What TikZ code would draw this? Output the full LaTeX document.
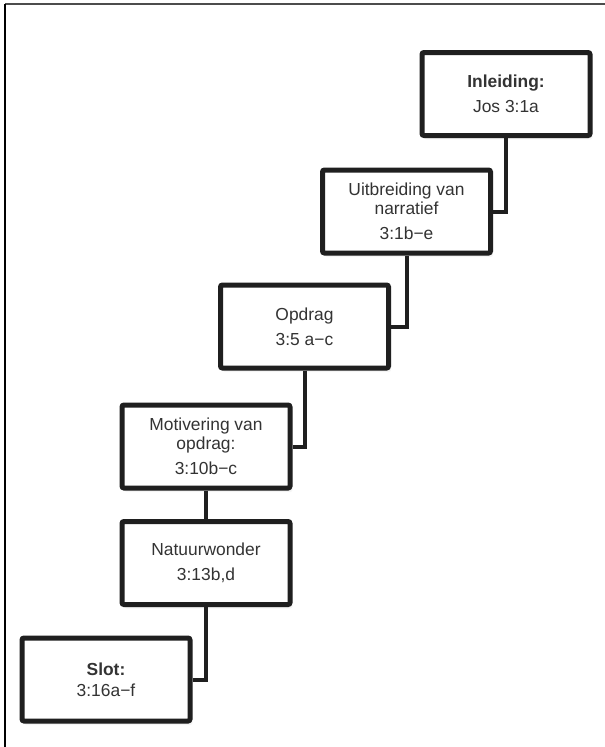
\documentclass[tikz,border=0pt]{standalone}
\usepackage{fontspec}
\setmainfont{Liberation Sans}
\usetikzlibrary{shadows}
\begin{document}
\begin{tikzpicture}[x=1pt,y=-1pt,
  box/.style={draw=black!88, fill=white, line width=5pt, rounded corners=2pt,
    minimum width=168pt, minimum height=83pt, inner sep=0pt, align=center,
    font=\fontsize{17.4}{19}\selectfont, text=black!80,
    drop shadow={shadow xshift=2.5pt, shadow yshift=-4pt, opacity=0.08},
    drop shadow={shadow xshift=1.5pt, shadow yshift=-2.5pt, opacity=0.18}},
  link/.style={line width=4pt, draw=black!88}]
\useasboundingbox (0,0) rectangle (605,747);
\draw[black!70, line width=1.5pt] (5,4) -- (605,4);
\draw[black, line width=1.5pt] (5,4) -- (5,747);
\node[box] (b1) at (506,94) {\textbf{Inleiding:}\\[6pt]Jos 3:1a};
\node[box] (b2) at (406.5,211.5) {Uitbreiding van\\narratief\\[6pt]3:1b−e};
\node[box] (b3) at (304.5,326.5) {Opdrag\\[6pt]3:5 a−c};
\node[box] (b4) at (206,446.5) {Motivering van\\opdrag:\\[6pt]3:10b−c};
\node[box] (b5) at (206,563) {Natuurwonder\\[6pt]3:13b,d};
\node[box] (b6) at (106,679.5) {\textbf{Slot:}\\[2pt]3:16a−f};
\draw[link] (b1.south) |- (b2.east);
\draw[link] (b2.south) |- (b3.east);
\draw[link] (b3.south) |- (b4.east);
\draw[link] (b4.south) -- (b5.north);
\draw[link] (b5.south) |- (b6.east);
\end{tikzpicture}
\end{document}
